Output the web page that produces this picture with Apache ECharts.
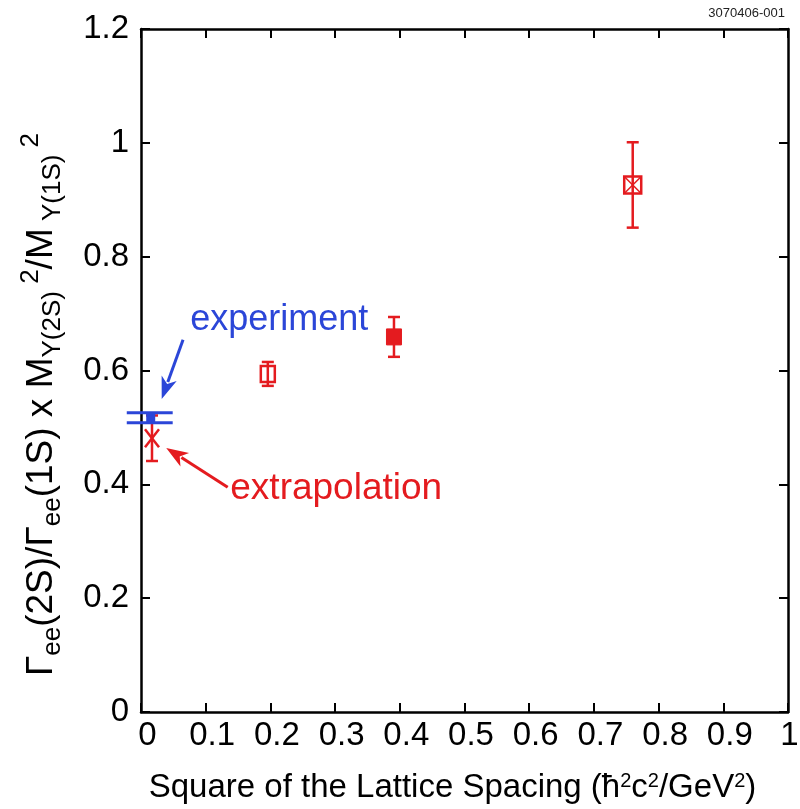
<!DOCTYPE html>
<html>
<head>
<meta charset="utf-8">
<script src="https://cdn.jsdelivr.net/npm/echarts@6/dist/echarts.min.js"></script>
<style>
  html, body { margin: 0; padding: 0; background: #fff; }
  #chart { width: 800px; height: 809px; }
</style>
</head>
<body>
<div id="chart"></div>
<script>
// Lattice results: ratio vs. squared lattice spacing
const latticeA2 = [0.017, 0.196, 0.391, 0.760];
const latticeRatio = [0.481, 0.594, 0.659, 0.926];
const latticeErr = [0.040, 0.021, 0.035, 0.075];
// 0 = extrapolated value, 1 = open box, 2 = filled box, 3 = crossed box
const latticeMarker = [0, 1, 2, 3];

// Experimental value (drawn as a narrow band with wide caps)
const expX = [0.015];
const expValue = [0.517];
const expErr = [0.0088];
const expCapSpan = [-0.022, 0.049];

// Annotation arrows: tail x, tail y, head x, head y
const arrowExp = [0.065, 0.654, 0.032, 0.550];
const arrowExtrap = [0.134, 0.395, 0.039, 0.464];
// Annotation labels: x, y (left edge, vertical middle)
const labelExpPos = [0.076, 0.689];
const labelExtrapPos = [0.138, 0.392];
const labelTexts = ['experiment', 'extrapolation'];

const xTicks = [0, 0.1, 0.2, 0.3, 0.4, 0.5, 0.6, 0.7, 0.8, 0.9, 1];
const yTicks = [0, 0.2, 0.4, 0.6, 0.8, 1, 1.2];

const RED = '#e41b1f';
const BLUE = '#2b46d8';
const FONT = '"Liberation Sans", Arial, Helvetica, sans-serif';

const chart = echarts.init(document.getElementById('chart'), null, { renderer: 'canvas' });

function renderLattice(params, api) {
  const x = api.value(0), y = api.value(1), e = api.value(2), kind = api.value(3);
  const c = api.coord([x, y]);
  const t = api.coord([x, y + e]);
  const b = api.coord([x, y - e]);
  const cap = 6;
  const ls = { stroke: RED, lineWidth: 2.5 };
  const kids = [
    { type: 'line', shape: { x1: c[0], y1: t[1], x2: c[0], y2: b[1] }, style: ls },
    { type: 'line', shape: { x1: c[0] - cap, y1: t[1], x2: c[0] + cap, y2: t[1] }, style: ls },
    { type: 'line', shape: { x1: c[0] - cap, y1: b[1], x2: c[0] + cap, y2: b[1] }, style: ls }
  ];
  if (kind === 0) {
    const w = 7, h = 9;
    kids.push({ type: 'line', shape: { x1: c[0] - w, y1: c[1] - h, x2: c[0] + w, y2: c[1] + h }, style: ls });
    kids.push({ type: 'line', shape: { x1: c[0] - w, y1: c[1] + h, x2: c[0] + w, y2: c[1] - h }, style: ls });
  } else if (kind === 1) {
    kids.push({ type: 'rect', shape: { x: c[0] - 7, y: c[1] - 8, width: 14, height: 16 },
      style: { fill: '#fff', stroke: RED, lineWidth: 2.5 } });
    kids.push({ type: 'line', shape: { x1: c[0], y1: c[1] - 8, x2: c[0], y2: c[1] + 8 }, style: ls });
  } else if (kind === 2) {
    kids.push({ type: 'rect', shape: { x: c[0] - 7.5, y: c[1] - 8, width: 15, height: 16 },
      style: { fill: RED, stroke: RED, lineWidth: 1 } });
  } else {
    const s = 8.5;
    kids.push({ type: 'rect', shape: { x: c[0] - s, y: c[1] - s, width: 2 * s, height: 2 * s },
      style: { fill: '#fff', stroke: RED, lineWidth: 2.5 } });
    kids.push({ type: 'line', shape: { x1: c[0] - s, y1: c[1] - s, x2: c[0] + s, y2: c[1] + s }, style: { stroke: RED, lineWidth: 1.5 } });
    kids.push({ type: 'line', shape: { x1: c[0] - s, y1: c[1] + s, x2: c[0] + s, y2: c[1] - s }, style: { stroke: RED, lineWidth: 1.5 } });
    kids.push({ type: 'line', shape: { x1: c[0], y1: c[1] - s, x2: c[0], y2: c[1] + s }, style: ls });
  }
  return { type: 'group', children: kids };
}

function renderExperiment(params, api) {
  const x = api.value(0), y = api.value(1), e = api.value(2);
  const c = api.coord([x, y]);
  const hi = api.coord([expCapSpan[0], y + e]);
  const lo = api.coord([expCapSpan[1], y - e]);
  const ls = { stroke: BLUE, lineWidth: 3 };
  return {
    type: 'group',
    children: [
      { type: 'line', shape: { x1: hi[0], y1: hi[1], x2: lo[0], y2: hi[1] }, style: ls },
      { type: 'line', shape: { x1: hi[0], y1: lo[1], x2: lo[0], y2: lo[1] }, style: ls },
      { type: 'rect', shape: { x: c[0] - 4.5, y: hi[1], width: 9, height: lo[1] - hi[1] }, style: { fill: BLUE } }
    ]
  };
}

function renderArrow(params, api) {
  const p0 = api.coord([api.value(0), api.value(1)]);
  const p1 = api.coord([api.value(2), api.value(3)]);
  const color = api.value(4) === 0 ? BLUE : RED;
  const dx = p1[0] - p0[0], dy = p1[1] - p0[1];
  const len = Math.sqrt(dx * dx + dy * dy);
  const ux = dx / len, uy = dy / len;
  const headLen = 22, headHalf = 8;
  const bx = p1[0] - ux * headLen, by = p1[1] - uy * headLen;
  return {
    type: 'group',
    children: [
      { type: 'line', shape: { x1: p0[0], y1: p0[1], x2: bx + ux * 4, y2: by + uy * 4 },
        style: { stroke: color, lineWidth: 3 } },
      { type: 'polygon', shape: { points: [
          [p1[0], p1[1]],
          [bx - uy * headHalf, by + ux * headHalf],
          [bx + ux * 6, by + uy * 6],
          [bx + uy * headHalf, by - ux * headHalf]
        ] }, style: { fill: color } }
    ]
  };
}

function renderLabel(params, api) {
  const p = api.coord([api.value(0), api.value(1)]);
  const i = params.dataIndex;
  return {
    type: 'text', x: p[0], y: p[1],
    style: {
      text: labelTexts[i], fill: api.value(2) === 0 ? BLUE : RED,
      font: (i === 0 ? 36 : 37) + 'px ' + FONT, textAlign: 'left', textVerticalAlign: 'middle'
    }
  };
}

const latticeData = latticeA2.map((x, i) => [x, latticeRatio[i], latticeErr[i], latticeMarker[i]]);
const expData = expX.map((x, i) => [x, expValue[i], expErr[i]]);

const axisLineStyle = { color: '#000', width: 2.5 };
const tickStyle = { show: true, inside: true, length: 9, lineStyle: { color: '#000', width: 2 } };

const yTitle = '{m|Γ}{s|ee}{m|(2S)/Γ}{s|ee}{m|(1S) x M}{s|Υ(2S)}{p| 2}{m|/M}{s| Υ(1S)}{p| 2}{g|}';

function xTickText(v) {
  const t = xTicks.find(k => Math.abs(k - v) < 1e-6);
  const s = String(t ?? v);
  return t === 1 ? '{e|' + s + '}' : '{n|' + s + '}';
}

chart.setOption({
  animation: false,
  backgroundColor: '#fff',
  grid: { left: 141, right: 12, top: 29, bottom: 97, containLabel: false, outerBoundsMode: 'none' },
  graphic: [{
    type: 'text', right: 15, top: 7,
    style: { text: '3070406-001', font: '13px ' + FONT, fill: '#222' }
  }],
  xAxis: [{
    type: 'value', position: 'bottom', min: 0, max: 1, interval: 0.1,
    axisLine: { show: true, onZero: false, lineStyle: axisLineStyle },
    axisTick: tickStyle, splitLine: { show: false },
    axisLabel: { fontFamily: FONT, fontSize: 33, color: '#000', margin: 7,
      formatter: xTickText,
      rich: {
        n: { fontFamily: FONT, fontSize: 33, color: '#000', padding: [0, 0, 0, 13] },
        e: { fontFamily: FONT, fontSize: 33, color: '#000', padding: [0, 0, 0, 3] }
      } },
    name: 'Square of the Lattice Spacing (ħ{p|2}c{p|2}/GeV{p|2})',
    nameLocation: 'middle', nameGap: 59,
    nameTextStyle: { fontFamily: FONT, fontSize: 33, color: '#000', padding: [0, 24, 0, 0],
      rich: { p: { fontFamily: FONT, fontSize: 20, color: '#000', verticalAlign: 'top', lineHeight: 34 } } }
  }, {
    type: 'value', position: 'top', min: 0, max: 1, interval: 0.1,
    axisLine: { show: true, onZero: false, lineStyle: axisLineStyle },
    axisTick: tickStyle, axisLabel: { show: false }, splitLine: { show: false }
  }],
  yAxis: [{
    type: 'value', position: 'left', min: 0, max: 1.2, interval: 0.2,
    axisLine: { show: true, onZero: false, lineStyle: axisLineStyle },
    axisTick: tickStyle, splitLine: { show: false },
    axisLabel: { fontFamily: FONT, fontSize: 33, color: '#000', margin: 12,
      formatter: v => String(yTicks.find(t => Math.abs(t - v) < 1e-6) ?? v) },
    name: yTitle, nameLocation: 'middle', nameGap: 75, nameRotate: 90,
    nameTextStyle: {
      rich: {
        m: { fontFamily: FONT, fontSize: 37, color: '#000', lineHeight: 48, verticalAlign: 'middle' },
        s: { fontFamily: FONT, fontSize: 26, color: '#000', lineHeight: 48, verticalAlign: 'bottom' },
        p: { fontFamily: FONT, fontSize: 26, color: '#000', lineHeight: 48, verticalAlign: 'top' },
        g: { width: 68, lineHeight: 48 }
      }
    }
  }, {
    type: 'value', position: 'right', min: 0, max: 1.2, interval: 0.2,
    axisLine: { show: true, onZero: false, lineStyle: axisLineStyle },
    axisTick: tickStyle, axisLabel: { show: false }, splitLine: { show: false }
  }],
  series: [
    { type: 'custom', name: 'arrows', renderItem: renderArrow, clip: false, z: 3,
      data: [arrowExp.concat([0]), arrowExtrap.concat([1])] },
    { type: 'custom', name: 'labels', renderItem: renderLabel, clip: false, z: 3,
      data: [labelExpPos.concat([0]), labelExtrapPos.concat([1])] },
    { type: 'custom', name: 'lattice', renderItem: renderLattice, clip: false, z: 4, data: latticeData },
    { type: 'custom', name: 'experiment', renderItem: renderExperiment, clip: false, z: 5, data: expData }
  ]
});
</script>
</body>
</html>
